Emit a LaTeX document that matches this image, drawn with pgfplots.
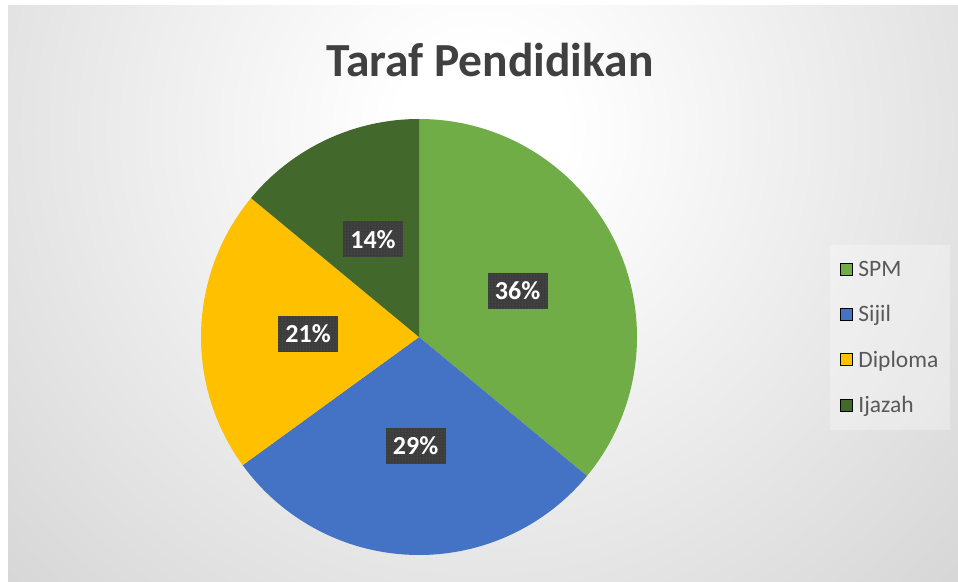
\documentclass[border=0pt]{standalone}
\usepackage{fontspec}
\setmainfont{Carlito}
\usepackage{pgfplots}
\pgfplotsset{compat=1.18}
\usetikzlibrary{patterns}
\definecolor{spm}{HTML}{70AD47}
\definecolor{sijil}{HTML}{4472C4}
\definecolor{diploma}{HTML}{FFC000}
\definecolor{ijazah}{HTML}{43682B}
\definecolor{titlegray}{HTML}{404040}
\definecolor{legendgray}{HTML}{595959}
\definecolor{lblgray}{HTML}{3C3C3C}
\definecolor{bgouter}{HTML}{BFBFBF}
\pgfdeclareradialshading{bgshade}{\pgfpoint{0bp}{0bp}}{color(0bp)=(white); color(3bp)=(white); color(35.36bp)=(bgouter); color(50bp)=(bgouter)}
\tikzset{lbl/.style={fill=lblgray, text=white, font=\fontsize{26}{30}\selectfont\bfseries,
  minimum width=60pt, minimum height=36pt, inner sep=0pt,
  postaction={pattern=dots, pattern color=gray!80!black}}}
\begin{document}
\begin{tikzpicture}
\begin{axis}[
  width=958pt, height=581pt, scale only axis,
  xmin=0, xmax=958, ymin=0, ymax=581,
  axis lines=none, clip=false,
  legend image code/.code={\fill[#1, fill opacity=1] (0pt,-6pt) rectangle (12pt,6pt); \path[draw=none, fill=none] (0pt,0pt) -- (16pt,0pt);},
  legend cell align=left,
  legend style={at={(axis cs:830,336)}, anchor=north west,
    draw=none, fill=white, fill opacity=0.3, text opacity=1,
    font=\fontsize{23.5}{28}\selectfont, text=legendgray,
    row sep=23.5pt, inner xsep=10pt, inner ysep=14pt,
    nodes={inner xsep=2pt}},
]
% background
\fill[white] (axis cs:0,0) rectangle (axis cs:958,581);
\begin{scope}
\clip (axis cs:8,0) rectangle (axis cs:958,575);
\shade[shading=bgshade] (axis cs:480,451) circle (700pt);
\end{scope}
% title
\node[font=\fontsize{47.5}{54}\selectfont\bfseries, text=titlegray] at (axis cs:490,521) {Taraf Pendidikan};
% pie slices (values in percent: SPM 36, Sijil 29, Diploma 21, Ijazah 14)
\fill[spm] (axis cs:419,244) -- ++(90:218pt) arc[start angle=90, delta angle=-36*3.6, radius=218pt] -- cycle;
\fill[sijil] (axis cs:419,244) -- ++({90-36*3.6}:218pt) arc[start angle={90-36*3.6}, delta angle=-29*3.6, radius=218pt] -- cycle;
\fill[diploma] (axis cs:419,244) -- ++({90-65*3.6}:218pt) arc[start angle={90-65*3.6}, delta angle=-21*3.6, radius=218pt] -- cycle;
\fill[ijazah] (axis cs:419,244) -- ++({90-86*3.6}:218pt) arc[start angle={90-86*3.6}, delta angle=-14*3.6, radius=218pt] -- cycle;
% labels
\path (axis cs:419,244) ++({90-18*3.6}:109pt) node[lbl]{36\%};
\path (axis cs:419,244) ++({90-50.5*3.6}:109pt) node[lbl]{29\%};
\path (axis cs:419,244) ++({90-75.5*3.6}:111pt) node[lbl]{21\%};
\path (axis cs:419,244) ++({90-93*3.6}:108pt) node[lbl]{14\%};
% legend
\addlegendimage{fill=spm}\addlegendentry{SPM}
\addlegendimage{fill=sijil}\addlegendentry{Sijil}
\addlegendimage{fill=diploma}\addlegendentry{Diploma}
\addlegendimage{fill=ijazah}\addlegendentry{Ijazah}
\end{axis}
\pgfresetboundingbox
\path[use as bounding box] (0,0) rectangle (958pt,581pt);
\end{tikzpicture}
\end{document}
